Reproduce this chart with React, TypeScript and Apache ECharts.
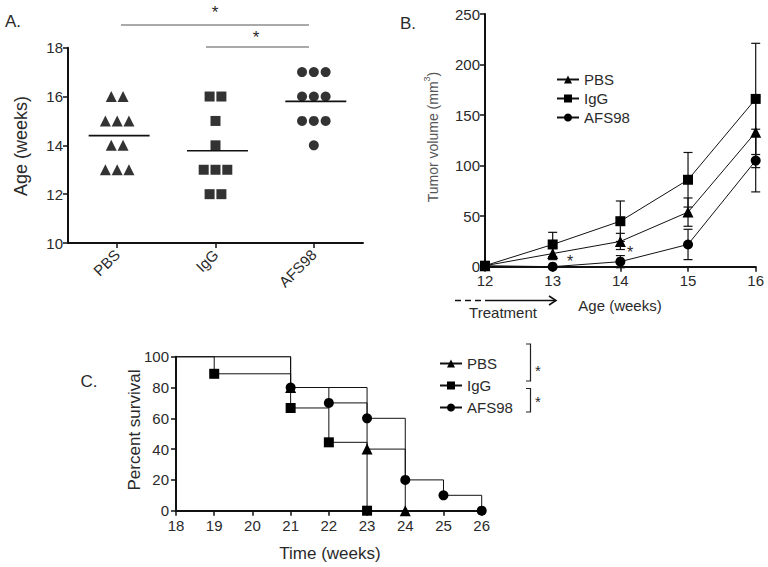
import { useEffect, useRef } from "react";
import * as echarts from "echarts";

// ---------- Panel A data ----------
const groupNames = ["PBS", "IgG", "AFS98"];
const agePBS = [16, 16, 15, 15, 15, 14, 14, 13, 13, 13];
const ageIgG = [16, 16, 15, 14, 13, 13, 13, 12, 12];
const ageAFS98 = [17, 17, 17, 16, 16, 16, 15, 15, 15, 14];
const ageTicks = [10, 12, 14, 16, 18];

// ---------- Panel B data ----------
const weeks = [12, 13, 14, 15, 16];
const volPBS = [1, 13, 25, 54, 133];
const semPBS = [0, 6, 8, 14, 35];
const volIgG = [1, 22, 45, 86, 166];
const semIgG = [0, 12, 20, 27, 55];
const volAFS98 = [1, 0, 5, 22, 105];
const semAFS98 = [0, 0, 6, 15, 31];

// ---------- Panel C data ----------
const survTimePBS = [18, 21, 23, 24];
const survPctPBS = [100, 80, 40, 0];
const survTimeIgG = [18, 19, 21, 22, 23];
const survPctIgG = [100, 88.9, 66.7, 44.4, 0];
const survTimeAFS98 = [18, 21, 22, 23, 24, 25, 26];
const survPctAFS98 = [100, 80, 70, 60, 20, 10, 0];

const FONT = "Liberation Sans";
const INK = "#111";
const LABEL = "#2a2a2a";

function jitter(vals: number[], center: number, step: number) {
  const counts: Record<number, number> = {};
  vals.forEach((v) => (counts[v] = (counts[v] || 0) + 1));
  const seen: Record<number, number> = {};
  return vals.map((v) => {
    const i = (seen[v] = (seen[v] ?? -1) + 1);
    return [center + (i - (counts[v] - 1) / 2) * step, v];
  });
}
const mean = (a: number[]) => a.reduce((s, v) => s + v, 0) / a.length;

function text(x: number, y: number, t: string, size: number, extra: any = {}) {
  return {
    type: "text",
    x,
    y,
    rotation: extra.rotation || 0,
    style: {
      text: t,
      fontSize: size,
      fontFamily: FONT,
      fill: extra.fill || LABEL,
      align: extra.align || "center",
      verticalAlign: "middle",
    },
  };
}
function seg(x1: number, y1: number, x2: number, y2: number, extra: any = {}) {
  return {
    type: "line",
    shape: { x1, y1, x2, y2 },
    style: { stroke: extra.stroke || INK, lineWidth: extra.lineWidth || 1, lineDash: extra.lineDash },
  };
}

export default function App() {
  const ref = useRef<HTMLDivElement>(null);
  useEffect(() => {
    if (!ref.current) return;
    const chart = echarts.init(ref.current, null, { renderer: "svg" });

    const ageGroups = [agePBS, ageIgG, ageAFS98];
    const symbols = ["triangle", "rect", "circle"];
    const symSizes = [11, 10, 10];

    const scatterA = ageGroups.map((g, k) => ({
      name: "a_" + groupNames[k],
      type: "scatter",
      xAxisIndex: 0,
      yAxisIndex: 0,
      symbol: symbols[k],
      symbolSize: symSizes[k],
      itemStyle: { color: "#000" },
      data: jitter(g, k + 1, 0.12),
      silent: true,
    }));
    const meanA = ageGroups.map((g, k) => ({
      name: "m_" + groupNames[k],
      type: "line",
      xAxisIndex: 0,
      yAxisIndex: 0,
      symbol: "none",
      lineStyle: { color: INK, width: 1.6 },
      data: [
        [k + 1 - 0.29, mean(g)],
        [k + 1 + 0.33, mean(g)],
      ],
      silent: true,
    }));

    const volSeries = [volPBS, volIgG, volAFS98];
    const semSeries = [semPBS, semIgG, semAFS98];
    const errB = volSeries.map((v, k) => ({
      name: "e_" + groupNames[k],
      type: "custom",
      xAxisIndex: 1,
      yAxisIndex: 1,
      z: 1,
      silent: true,
      encode: { x: 0, y: [1, 2] },
      data: weeks
        .map((w, i) => [w, v[i] - semSeries[k][i], v[i] + semSeries[k][i]])
        .filter((d) => d[2] - d[1] > 0),
      renderItem: (_p: any, api: any) => {
        const x = api.value(0);
        const top = api.coord([x, api.value(2)]);
        const bot = api.coord([x, api.value(1)]);
        const w = 4.5;
        const st = { stroke: INK, lineWidth: 1.2 };
        return {
          type: "group",
          children: [
            { type: "line", shape: { x1: top[0], y1: top[1], x2: bot[0], y2: bot[1] }, style: st },
            { type: "line", shape: { x1: top[0] - w, y1: top[1], x2: top[0] + w, y2: top[1] }, style: st },
            { type: "line", shape: { x1: bot[0] - w, y1: bot[1], x2: bot[0] + w, y2: bot[1] }, style: st },
          ],
        };
      },
    }));
    const lineB = volSeries.map((v, k) => ({
      name: groupNames[k],
      type: "line",
      xAxisIndex: 1,
      yAxisIndex: 1,
      z: 3,
      symbol: symbols[k],
      symbolSize: symSizes[k],
      showSymbol: true,
      itemStyle: { color: "#000" },
      lineStyle: { color: INK, width: 1 },
      data: weeks.map((w, i) => [w, v[i]]),
      silent: true,
    }));

    const survT = [survTimePBS, survTimeIgG, survTimeAFS98];
    const survP = [survPctPBS, survPctIgG, survPctAFS98];
    const lineC = survT.map((t, k) => ({
      name: groupNames[k],
      type: "line",
      xAxisIndex: 2,
      yAxisIndex: 2,
      step: "end",
      symbol: symbols[k],
      symbolSize: symSizes[k],
      showSymbol: true,
      itemStyle: { color: "#000" },
      lineStyle: { color: INK, width: 1 },
      data: t.map((x, i) => (i === 0 ? { value: [x, survP[k][i]], symbol: "none" } : [x, survP[k][i]])),
      silent: true,
    }));

    const axisLine = { show: true, lineStyle: { color: INK, width: 2 } };
    const axisTick = { show: true, length: 5, lineStyle: { color: INK, width: 1.5 } };
    const lab = (size: number, margin: number) => ({
      fontSize: size,
      fontFamily: FONT,
      color: LABEL,
      margin,
    });

    const legendCommon = {
      orient: "vertical",
      data: groupNames,
      itemWidth: 22,
      itemHeight: 10,
      selectedMode: false,
      textStyle: { fontSize: 15, fontFamily: FONT, color: LABEL },
      itemStyle: { color: "#000" },
    };

    const graphic: any[] = [
      // Panel A
      text(13, 21, "A.", 17),
      seg(121, 25, 309, 25, { stroke: "#555" }),
      text(215, 12, "*", 17),
      seg(206, 47, 309, 47, { stroke: "#555" }),
      text(256, 37, "*", 17),
      text(21, 146, "Age (weeks)", 18, { rotation: Math.PI / 2 }),
      // Panel B
      text(408, 23, "B.", 17),
      {
        type: "text",
        x: 433,
        y: 137,
        rotation: Math.PI / 2,
        style: {
          text: "{a|Tumor volume (mm}{s|3}{a|)}",
          fontFamily: FONT,
          fill: "#555",
          align: "center",
          verticalAlign: "middle",
          rich: {
            a: { fontSize: 14, fontFamily: FONT, fill: "#555", lineHeight: 22, verticalAlign: "middle" },
            s: { fontSize: 9, fontFamily: FONT, fill: "#555", lineHeight: 22, verticalAlign: "top" },
          },
        },
      },
      text(570, 261, "*", 16),
      text(630, 252, "*", 16),
      seg(455, 300.5, 487, 300.5, { lineWidth: 1.5, lineDash: [6, 4] }),
      seg(487, 300.5, 556, 300.5, { lineWidth: 1.5 }),
      {
        type: "polyline",
        shape: { points: [[549, 296], [556, 300.5], [549, 305]] },
        style: { stroke: INK, lineWidth: 1.5, fill: null },
      },
      text(503, 312, "Treatment", 15),
      text(620, 305, "Age (weeks)", 15),
      // Panel C
      text(89, 381, "C.", 17),
      text(134, 430, "Percent survival", 17, { rotation: Math.PI / 2 }),
      text(330, 553, "Time (weeks)", 17),
      {
        type: "polyline",
        shape: { points: [[526, 344], [530.5, 344], [530.5, 381], [526, 381]] },
        style: { stroke: "#222", lineWidth: 1.2, fill: null },
      },
      {
        type: "polyline",
        shape: { points: [[526, 388.5], [530.5, 388.5], [530.5, 412], [526, 412]] },
        style: { stroke: "#222", lineWidth: 1.2, fill: null },
      },
      text(538, 370, "*", 15),
      text(538, 401, "*", 15),
    ];

    chart.setOption({
      animation: false,
      textStyle: { fontFamily: FONT },
      grid: [
        { left: 68, right: 405, top: 47.7, bottom: 324 },
        { left: 485, right: 12.3, top: 14, bottom: 300.3 },
        { left: 176, right: 286.3, top: 356.7, bottom: 56.3 },
      ],
      xAxis: [
        {
          gridIndex: 0,
          type: "value",
          min: 0.5,
          max: 3.5,
          axisLine,
          axisTick: { ...axisTick, customValues: [1, 2, 3] },
          axisLabel: {
            ...lab(15, 9),
            rotate: 45,
            customValues: [1, 2, 3],
            formatter: (v: number) => groupNames[Math.round(v) - 1] ?? "",
          },
          splitLine: { show: false },
        },
        {
          gridIndex: 1,
          type: "value",
          min: 12,
          max: 16,
          interval: 1,
          axisLine,
          axisTick,
          axisLabel: lab(15, 6),
          splitLine: { show: false },
        },
        {
          gridIndex: 2,
          type: "value",
          min: 18,
          max: 26,
          interval: 1,
          axisLine,
          axisTick,
          axisLabel: lab(15, 7),
          splitLine: { show: false },
        },
      ],
      yAxis: [
        {
          gridIndex: 0,
          type: "value",
          min: ageTicks[0],
          max: ageTicks[ageTicks.length - 1],
          interval: 2,
          axisLine,
          axisTick,
          axisLabel: lab(15, 5),
          splitLine: { show: false },
        },
        {
          gridIndex: 1,
          type: "value",
          min: 0,
          max: 250,
          interval: 50,
          axisLine,
          axisTick,
          axisLabel: lab(15, 5),
          splitLine: { show: false },
        },
        {
          gridIndex: 2,
          type: "value",
          min: 0,
          max: 100,
          interval: 20,
          axisLine,
          axisTick,
          axisLabel: lab(15, 7),
          splitLine: { show: false },
        },
      ],
      legend: [
        { ...legendCommon, left: 551, top: 67, itemGap: 4 },
        { ...legendCommon, left: 434, top: 351, itemGap: 7 },
      ],
      series: [...scatterA, ...meanA, ...errB, ...lineB, ...lineC],
      graphic,
    });
    return () => chart.dispose();
  }, []);

  return (
    <div
      ref={ref}
      style={{ position: "fixed", left: 0, top: 0, width: 768, height: 567, background: "#fff" }}
    />
  );
}
